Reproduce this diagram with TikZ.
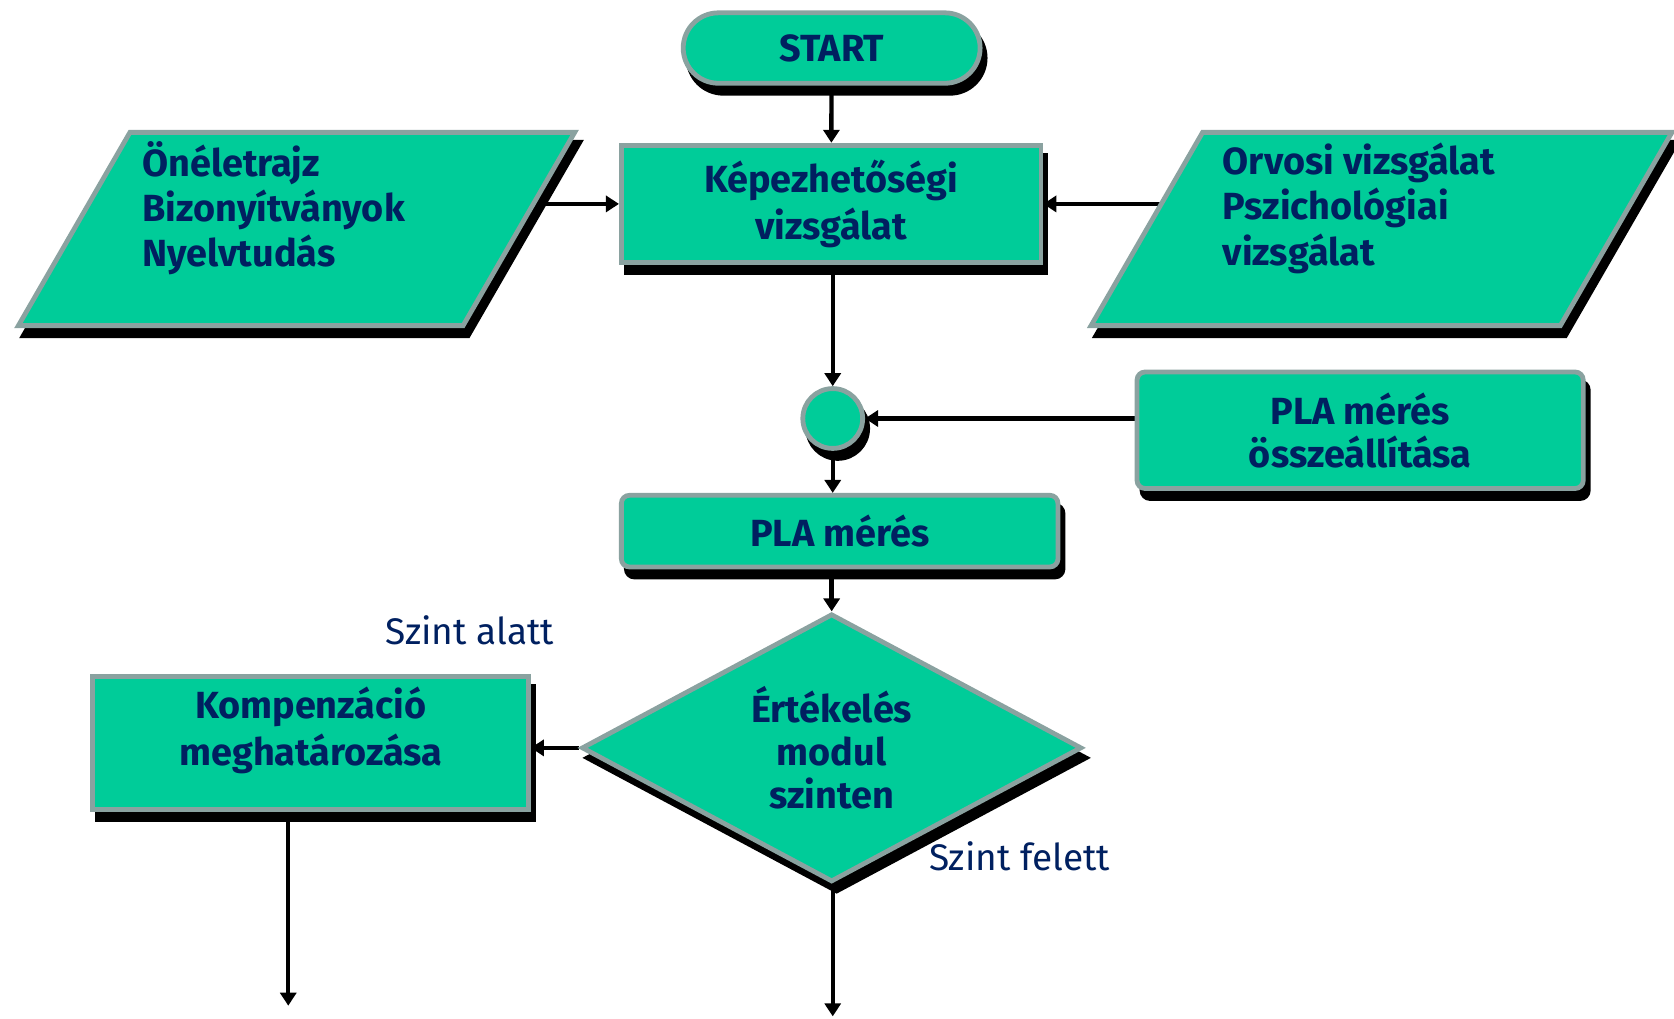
\documentclass[tikz,border=0pt]{standalone}
\usepackage{fontspec}
\setmainfont{Fira Sans}
\usetikzlibrary{
  shapes.geometric,
  shapes.misc,
  shadows,
  arrows.meta,
  backgrounds
}
\definecolor{boxfill}{RGB}{0,204,153}
\definecolor{boxline}{RGB}{138,162,160}
\definecolor{boxtext}{RGB}{0,32,96}
\tikzset{
  >={Triangle[length=6.5pt,width=8pt]},
  flow/.style={->, line width=2.2pt},
  block/.style={draw=boxline, line width=2.4pt, fill=boxfill, text=boxtext,
    font=\bfseries\fontsize{18.9pt}{23.5pt}\selectfont, align=center, inner sep=0pt,
    drop shadow={fill=black, draw=black, opacity=1, shadow xshift=2.5pt, shadow yshift=-5pt}},
  tight/.style={font=\bfseries\fontsize{18.9pt}{21.5pt}\selectfont},
  rblock/.style={block, rounded corners=4pt},
  terminal/.style={block, rounded rectangle, minimum width=148.4pt, minimum height=35.2pt},
  junction/.style={block, circle, minimum size=29.9pt},
  decision/.style={block, tight, diamond, aspect=1.87, minimum width=250pt, minimum height=134pt},
  para/.style={block, trapezium, trapezium left angle=60, trapezium right angle=120,
    text height=48.3pt, text depth=48.3pt},
  paratext/.style={text=boxtext, font=\bfseries\fontsize{18.9pt}{22.7pt}\selectfont,
    align=left, anchor=west, inner sep=0pt},
  lbl/.style={text=boxtext, font=\fontsize{18.5pt}{23pt}\selectfont, inner sep=0pt}
}
\begin{document}
\begin{tikzpicture}[x=0.5336pt, y=-0.5336pt]
  \useasboundingbox (0,0) rectangle (1568,954);
  \node[terminal] (start) at (779,45) {START};
  \node[block, minimum width=209.7pt, minimum height=58.7pt] (kep) at (778.5,191) {Képezhetőségi\\vizsgálat};
  \node[para, text width=166.5pt] (lin) at (277.75,214.5) {};
  \node[paratext] (lintxt) at (133,195) {Önéletrajz\\Bizonyítványok\\Nyelvtudás};
  \node[para, text width=178.8pt] (rin) at (1294,214.5) {};
  \node[paratext] (rintxt) at (1145,195) {Orvosi vizsgálat\\Pszichológiai\\vizsgálat};
  \node[junction] (join) at (780,392) {};
  \node[rblock, tight, minimum width=223pt, minimum height=58.2pt] (plaossz) at (1274,403) {PLA mérés\\összeállítása};
  \node[rblock, minimum width=218.2pt, minimum height=35.8pt] (pla) at (786.5,497.5) {PLA mérés};
  \node[decision] (dec) at (779,700.5) {Értékelés\\modul\\szinten};
  \node[block, minimum width=217.7pt, minimum height=66.2pt] (komp) at (291,696) {Kompenzáció\\meghatározása\\[-7pt]\mbox{}};
  \node[lbl] (alatt) at (440,590) {Szint alatt};
  \node[lbl] (felett) at (955,802) {Szint felett};
  \coordinate (kout) at (270,942);
  \coordinate (dout) at (780,952);
  \begin{pgfonlayer}{background}
    \draw[flow] (start) -- (kep);
    \draw[flow] (lin |- kep) -- (kep);
    \draw[flow] (rin |- kep) -- (kep);
    \draw[flow] (kep.south -| join) -- (join);
    \draw[flow] (plaossz.west |- join) -- (join);
    \draw[flow] (join) -- (join |- pla.north);
    \draw[flow] (dec.north |- pla.south) -- (dec);
    \draw[flow] (dec.west) -- (komp.east |- dec.west);
    \draw[flow] (komp.south -| kout) -- (kout);
    \draw[flow] (dec.south -| dout) -- (dout);
  \end{pgfonlayer}
\end{tikzpicture}
\end{document}
